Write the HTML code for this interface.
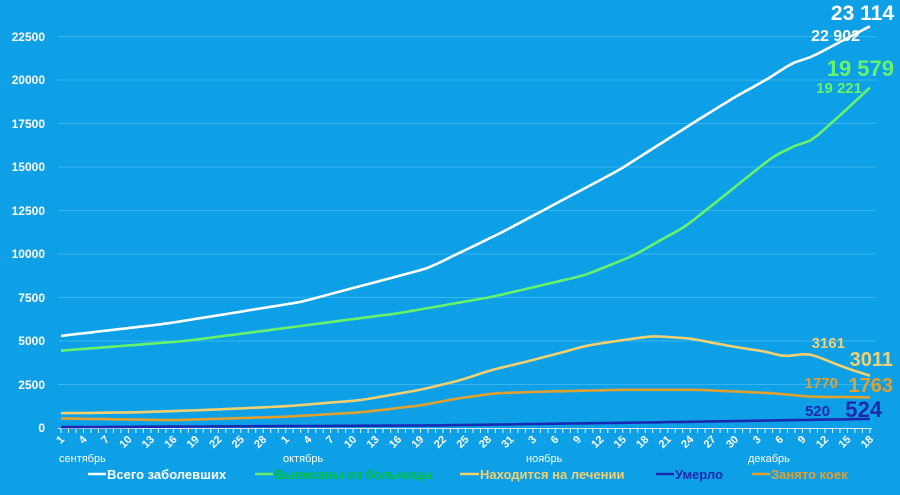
<!DOCTYPE html>
<html><head><meta charset="utf-8"><style>
html,body{margin:0;padding:0;background:#0ea0e6;}
svg{display:block;font-family:"Liberation Sans",sans-serif;}
.yl{fill:#fff;font-size:12px;font-weight:bold;text-anchor:end}
.xl{fill:#fff;font-size:11px;font-weight:bold;text-anchor:end}
</style></head><body>
<svg id="s" width="900" height="495" viewBox="0 0 900 495">
<rect width="900" height="495" fill="#0ea0e6"/>
<g stroke="#38b4ee" stroke-width="1">
<line x1="58" y1="384.5" x2="876" y2="384.5"/><line x1="58" y1="341" x2="876" y2="341"/>
<line x1="58" y1="297.5" x2="876" y2="297.5"/><line x1="58" y1="254" x2="876" y2="254"/>
<line x1="58" y1="210.5" x2="876" y2="210.5"/><line x1="58" y1="167" x2="876" y2="167"/>
<line x1="58" y1="123.5" x2="876" y2="123.5"/><line x1="58" y1="80" x2="876" y2="80"/>
<line x1="58" y1="36.5" x2="876" y2="36.5"/>
</g>
<g class="yl">
<text x="45" y="432">0</text><text x="45" y="389">2500</text><text x="45" y="345">5000</text>
<text x="45" y="302">7500</text><text x="45" y="258">10000</text><text x="45" y="215">12500</text>
<text x="45" y="171">15000</text><text x="45" y="128">17500</text><text x="45" y="84">20000</text>
<text x="45" y="41">22500</text>
</g>
<line x1="58" y1="428.5" x2="872" y2="428.5" stroke="#cfe6f5" stroke-width="1"/>
<g id="ticks" stroke="#e8f4fb" stroke-width="1"></g>
<g id="lines" fill="none" stroke-width="2.6" stroke-linejoin="round"></g>
<g class="xl">
<text transform="translate(65,440) rotate(-45)">1</text>
<text transform="translate(87.5,440) rotate(-45)">4</text>
<text transform="translate(109.9,440) rotate(-45)">7</text>
<text transform="translate(132.4,440) rotate(-45)">10</text>
<text transform="translate(154.9,440) rotate(-45)">13</text>
<text transform="translate(177.4,440) rotate(-45)">16</text>
<text transform="translate(199.8,440) rotate(-45)">19</text>
<text transform="translate(222.3,440) rotate(-45)">22</text>
<text transform="translate(244.8,440) rotate(-45)">25</text>
<text transform="translate(267.2,440) rotate(-45)">28</text>
<text transform="translate(289.7,440) rotate(-45)">1</text>
<text transform="translate(312.2,440) rotate(-45)">4</text>
<text transform="translate(334.6,440) rotate(-45)">7</text>
<text transform="translate(357.1,440) rotate(-45)">10</text>
<text transform="translate(379.6,440) rotate(-45)">13</text>
<text transform="translate(402.1,440) rotate(-45)">16</text>
<text transform="translate(424.5,440) rotate(-45)">19</text>
<text transform="translate(447,440) rotate(-45)">22</text>
<text transform="translate(469.5,440) rotate(-45)">25</text>
<text transform="translate(491.9,440) rotate(-45)">28</text>
<text transform="translate(514.4,440) rotate(-45)">31</text>
<text transform="translate(536.9,440) rotate(-45)">3</text>
<text transform="translate(559.3,440) rotate(-45)">6</text>
<text transform="translate(581.8,440) rotate(-45)">9</text>
<text transform="translate(604.3,440) rotate(-45)">12</text>
<text transform="translate(626.8,440) rotate(-45)">15</text>
<text transform="translate(649.2,440) rotate(-45)">18</text>
<text transform="translate(671.7,440) rotate(-45)">21</text>
<text transform="translate(694.2,440) rotate(-45)">24</text>
<text transform="translate(716.6,440) rotate(-45)">27</text>
<text transform="translate(739.1,440) rotate(-45)">30</text>
<text transform="translate(761.6,440) rotate(-45)">3</text>
<text transform="translate(784,440) rotate(-45)">6</text>
<text transform="translate(806.5,440) rotate(-45)">9</text>
<text transform="translate(829,440) rotate(-45)">12</text>
<text transform="translate(851.5,440) rotate(-45)">15</text>
<text transform="translate(873.9,440) rotate(-45)">18</text>
</g>
<g fill="#fff" font-size="11">
<text x="59" y="462">сентябрь</text><text x="283" y="462">октябрь</text>
<text x="526" y="462">ноябрь</text><text x="748" y="462">декабрь</text>
</g>
<g font-size="13" font-weight="bold">
<line x1="88" y1="474" x2="106" y2="474" stroke="#fff" stroke-width="2.5"/><text x="107" y="479" fill="#fff">Всего заболевших</text>
<line x1="255" y1="474" x2="273" y2="474" stroke="#66ee66" stroke-width="2.5"/><text x="274" y="479" fill="#00c040">Выписаны из больницы</text>
<line x1="460" y1="474" x2="479" y2="474" stroke="#f0d070" stroke-width="2.5"/><text x="480" y="479" fill="#f0d070">Находится на лечении</text>
<line x1="656" y1="474" x2="674" y2="474" stroke="#1a2ab0" stroke-width="2.5"/><text x="675" y="479" fill="#1a2ab0">Умерло</text>
<line x1="752" y1="474" x2="770" y2="474" stroke="#e0a030" stroke-width="2.5"/><text x="771" y="479" fill="#e0a030">Занято коек</text>
</g>
<g font-weight="bold" text-anchor="end">
<text x="894" y="20" font-size="21" fill="#fff">23 114</text>
<text x="860" y="41" font-size="16" fill="#fff">22 902</text>
<text x="894" y="76" font-size="22" fill="#66f36b">19 579</text>
<text x="862" y="93" font-size="15" fill="#66f36b">19 221</text>
<text x="845" y="348" font-size="15" fill="#f0d070">3161</text>
<text x="893" y="366" font-size="20" fill="#f0d070">3011</text>
<text x="838" y="388" font-size="15" fill="#e0a030">1770</text>
<text x="893" y="392" font-size="20" fill="#e0a030">1763</text>
<text x="830" y="416" font-size="15" fill="#1a2ab0">520</text>
<text x="882" y="417" font-size="22" fill="#1a2ab0">524</text>
</g>
</svg>
<script>
var X=function(i){return 61+i*7.49},Y=function(v){return 428-v*0.01738};
var t=document.getElementById('ticks'),h='';
for(var i=0;i<=108;i++){var x=X(i).toFixed(1);h+='<line x1="'+x+'" y1="429" x2="'+x+'" y2="433"/>';}
t.innerHTML=h;
function interp(p){var v=[];for(var i=0;i<=108;i++){for(var k=0;k<p.length-1;k++){if(i>=p[k][0]&&i<=p[k+1][0]){var a=p[k],b=p[k+1],f=(i-a[0])/(b[0]-a[0]);v.push(a[1]+(b[1]-a[1])*f);break;}}}
var w=v.slice();for(var i=1;i<=107;i++){w[i]=(v[i-1]+v[i]*2+v[i+1])/4;}
return 'M'+w.map(function(q,i){return X(i).toFixed(1)+','+Y(q).toFixed(1)}).join(' L');}
var S=[
["#e0a030",[[0,550],[15,450],[30,650],[40,900],[48,1300],[53,1700],[58,2000],[65,2100],[75,2200],[85,2200],[95,2000],[100,1800],[108,1763]]],
["#f0d070",[[0,850],[10,900],[20,1050],[30,1250],[40,1600],[48,2200],[53.4,2760],[57.5,3340],[62,3800],[66,4250],[70,4720],[74,5000],[79,5290],[84,5150],[90,4660],[94,4400],[96.7,4090],[99.7,4320],[104.8,3450],[108,3011]]],
["#1a2ab0",[[0,50],[50,150],[80,330],[108,524]]],
["#66f36b",[[0,4450],[16.5,5000],[32,5870],[45,6600],[57.5,7540],[70,8800],[76.6,9950],[80,10800],[83.3,11570],[90,13870],[95,15600],[98.7,16400],[100,16450],[104.8,18300],[108,19579]]],
["#ffffff",[[0,5300],[14,6000],[32,7250],[49,9200],[58.6,11200],[74.5,14840],[84.2,17500],[90,19050],[94,20000],[98.3,21170],[99.4,21170],[108,23114]]]
];
var g=document.getElementById('lines'),s='';
S.forEach(function(a){s+='<path d="'+interp(a[1])+'" stroke="'+a[0]+'"/>';});
g.innerHTML=s;
</script>
</body></html>
